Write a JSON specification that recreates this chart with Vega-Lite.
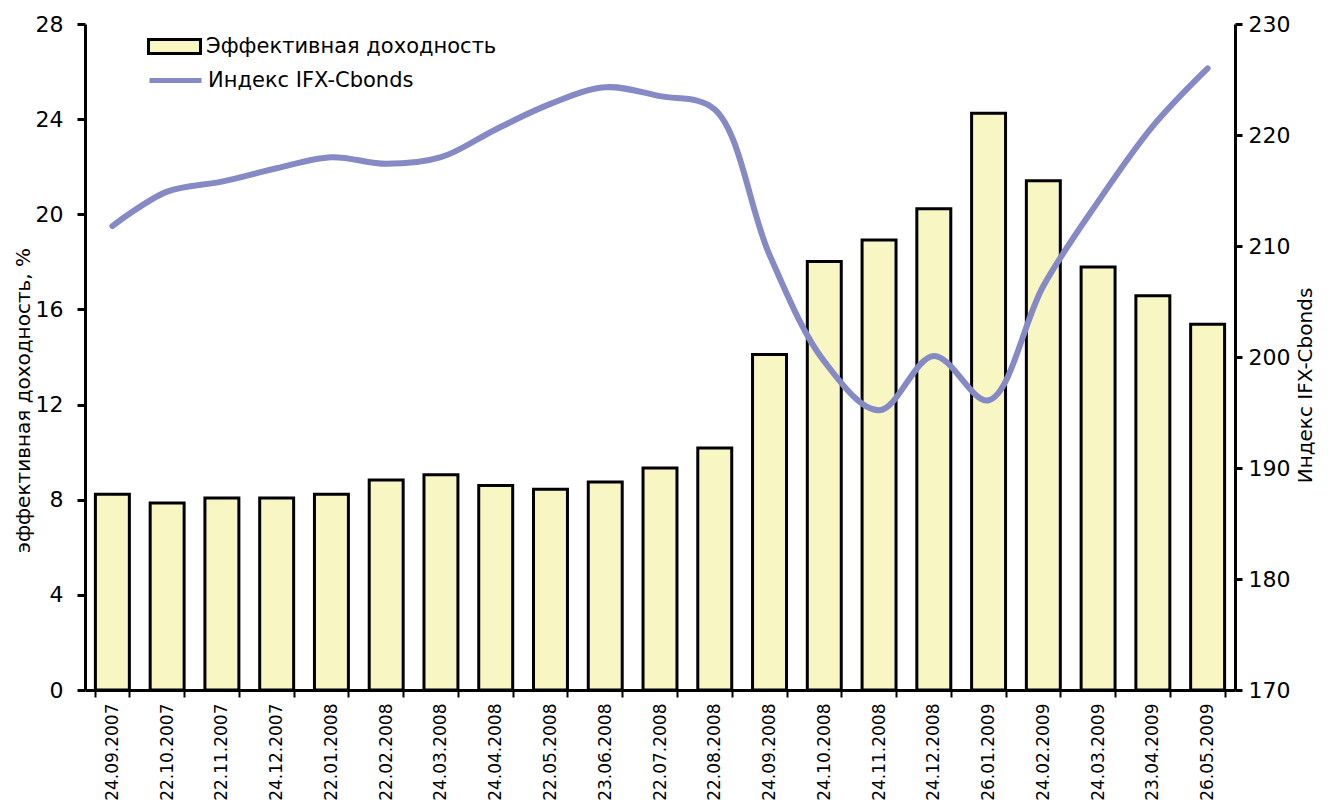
{
  "$schema": "https://vega.github.io/schema/vega-lite/v6.json",
  "autosize": {"type": "none"},
  "width": 1150,
  "height": 666,
  "padding": {"left": 85, "top": 24, "right": 93, "bottom": 117},
  "background": "white",
  "config": {
    "font": "DejaVu Sans",
    "view": {"stroke": null},
    "axis": {"grid": false, "domainColor": "black", "tickColor": "black", "labelColor": "black", "titleColor": "black", "titleFontWeight": "normal"}
  },
  "data": {"values": [
    {"date": "24.09.2007", "y": 8.23, "idx": 211.8},
    {"date": "22.10.2007", "y": 7.86, "idx": 214.9},
    {"date": "22.11.2007", "y": 8.07, "idx": 215.8},
    {"date": "24.12.2007", "y": 8.07, "idx": 217.0},
    {"date": "22.01.2008", "y": 8.23, "idx": 218.0},
    {"date": "22.02.2008", "y": 8.83, "idx": 217.4},
    {"date": "24.03.2008", "y": 9.05, "idx": 218.0},
    {"date": "24.04.2008", "y": 8.6, "idx": 220.5},
    {"date": "22.05.2008", "y": 8.44, "idx": 222.8},
    {"date": "23.06.2008", "y": 8.75, "idx": 224.3},
    {"date": "22.07.2008", "y": 9.33, "idx": 223.5},
    {"date": "22.08.2008", "y": 10.17, "idx": 222.3},
    {"date": "24.09.2008", "y": 14.1, "idx": 209.2},
    {"date": "24.10.2008", "y": 18.02, "idx": 199.6},
    {"date": "24.11.2008", "y": 18.92, "idx": 195.2},
    {"date": "24.12.2008", "y": 20.23, "idx": 200.1},
    {"date": "26.01.2009", "y": 24.25, "idx": 196.1},
    {"date": "24.02.2009", "y": 21.41, "idx": 206.4},
    {"date": "24.03.2009", "y": 17.78, "idx": 214.0},
    {"date": "23.04.2009", "y": 16.57, "idx": 220.8},
    {"date": "26.05.2009", "y": 15.38, "idx": 226.0}
  ]},
  "encoding": {
    "x": {
      "field": "date", "type": "nominal", "sort": null,
      "scale": {"paddingInner": 0.38, "paddingOuter": 0.19},
      "axis": {
        "title": null, "labelAngle": -90, "labelAlign": "right", "labelBaseline": "middle",
        "labelFontSize": 17, "labelPadding": 6, "tickBand": "extent", "tickSize": 7,
        "tickWidth": 2, "domainWidth": 3
      }
    }
  },
  "layer": [
    {
      "mark": {"type": "bar", "stroke": "black", "strokeWidth": 3, "strokeJoin": "miter"},
      "encoding": {
        "y": {
          "field": "y", "type": "quantitative",
          "scale": {"domain": [0, 28], "nice": false},
          "axis": {
            "title": "эффективная доходность, %", "titleFontSize": 20, "titleAngle": -90,
            "titleX": -62, "titleY": 376, "titleAlign": "center", "titleBaseline": "middle",
            "values": [0, 4, 8, 12, 16, 20, 24, 28], "labelFontSize": 22, "labelPadding": 14,
            "tickSize": 8, "tickWidth": 3, "domainWidth": 3
          }
        },
        "fill": {
          "datum": "Эффективная доходность",
          "scale": {"range": ["#F8F6C2"]},
          "legend": {
            "title": null, "orient": "none", "legendX": 62, "legendY": -5,
            "symbolType": "M-1,-0.27H1V0.27H-1Z", "symbolSize": 2704,
            "symbolStrokeColor": "black", "symbolStrokeWidth": 3,
            "labelFontSize": 21, "labelOffset": 4, "labelColor": "black", "labelLimit": 500
          }
        }
      }
    },
    {
      "mark": {"type": "line", "interpolate": "catmull-rom", "strokeWidth": 6, "strokeCap": "round"},
      "encoding": {
        "y": {
          "field": "idx", "type": "quantitative",
          "scale": {"domain": [170, 230], "nice": false, "zero": false},
          "axis": {
            "orient": "right", "title": "Индекс IFX-Cbonds", "titleFontSize": 20, "titleAngle": -90,
            "titleX": 70, "titleY": 361, "titleAlign": "center", "titleBaseline": "middle",
            "values": [170, 180, 190, 200, 210, 220, 230], "labelFontSize": 22, "labelPadding": 6,
            "tickSize": 7, "tickWidth": 3, "domainWidth": 3
          }
        },
        "stroke": {
          "datum": "Индекс IFX-Cbonds",
          "scale": {"range": ["#8589C4"]},
          "legend": {
            "title": null, "orient": "none", "legendX": 62, "legendY": 28,
            "symbolType": "stroke", "symbolSize": 2704, "symbolStrokeWidth": 5,
            "labelFontSize": 21, "labelOffset": 4, "labelColor": "black", "labelLimit": 500
          }
        }
      }
    }
  ],
  "resolve": {"scale": {"y": "independent"}}
}
